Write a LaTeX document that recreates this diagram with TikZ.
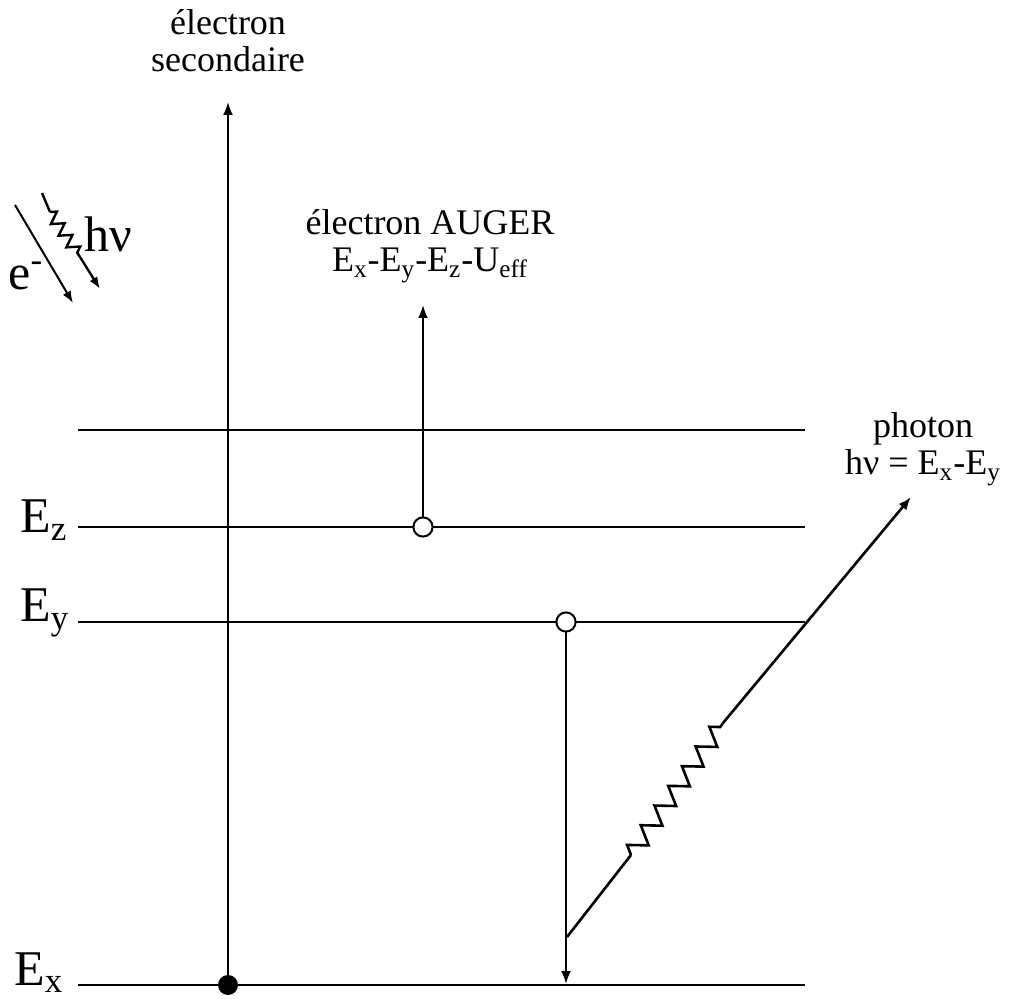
\documentclass[tikz,border=0pt]{standalone}
\usepackage{fontspec}
\setmainfont{Liberation Serif}
\usetikzlibrary{arrows.meta,decorations.pathmorphing}

\begin{document}
\begin{tikzpicture}[x=0.5pt,y=-0.5pt]

\tikzset{niveau/.style={line width=1pt},
  fleche/.style={line width=1pt,-{Latex[length=6.5pt,width=5pt]}},
  onde/.style={decorate,decoration={zigzag,segment length=12pt,amplitude=4.5pt}},
  petit/.style={font=\fontsize{18}{18.5}\selectfont,align=center,inner sep=0pt},
  grand/.style={font=\fontsize{25}{25}\selectfont,inner sep=0pt}}

\useasboundingbox (0,0) rectangle (1012,999);

% niveaux
\coordinate (t0) at (78,430);  \coordinate (t1) at (805,430);
\coordinate (z0) at (78,527);  \coordinate (z1) at (805,527);
\coordinate (y0) at (78,622);  \coordinate (y1) at (805,622);
\coordinate (x0) at (78,985);  \coordinate (x1) at (805,985);

\draw[niveau] (t0) -- (t1);
\draw[niveau] (z0) -- (z1);
\draw[niveau] (y0) -- (y1);
\draw[niveau] (x0) -- (x1);

\node[grand,anchor=base west] (Ez) at (20,533) {E\textsubscript{z}};
\node[grand,anchor=base west] (Ey) at (20,622) {E\textsubscript{y}};
\node[grand,anchor=base west] (Ex) at (14,985) {E\textsubscript{x}};

% electron secondaire
\coordinate (sec0) at (228,985);
\coordinate (sec1) at (228,102);
\draw[fleche] (sec0) -- (sec1);
\fill (sec0) circle [radius=5pt];
\node[petit,anchor=base] (secl) at (228,72) {électron\\secondaire};

% electron Auger
\coordinate (aug0) at (423,527);
\coordinate (aug1) at (423,305);
\draw[fleche] ([yshift=-5pt]aug0) -- (aug1);
\draw[line width=1pt,fill=white] (aug0) circle [radius=4.8pt];
\node[petit,anchor=base] (augl) at (430,272) {électron AUGER\\E\textsubscript{x}-E\textsubscript{y}-E\textsubscript{z}-U\textsubscript{eff}};

% transition Ey -> Ex
\coordinate (tr0) at (566,622);
\coordinate (tr1) at (566,984);
\draw[fleche] ([yshift=-5pt]tr0) -- (tr1);
\draw[line width=1pt,fill=white] (tr0) circle [radius=4.8pt];

% photon
\coordinate (ph0) at (567,937);
\coordinate (ph1) at (631,855);
\coordinate (ph2) at (723,723);
\coordinate (ph3) at (911,497);
\draw[line width=1.3pt] (ph0) -- (ph1);
\draw[line width=1.3pt,onde] (ph1) -- (ph2);
\draw[line width=1.3pt,-{Latex[length=6.5pt,width=5pt]}] (ph2) -- (ph3);
\node[petit,anchor=base] (phl) at (923,475) {photon\\hν = E\textsubscript{x}-E\textsubscript{y}};

% legende e- / hv
\coordinate (e0) at (15,205);
\coordinate (e1) at (73,303);
\draw[line width=1pt,-{Latex[length=6pt,width=4.5pt]}] (e0) -- (e1);
\coordinate (h0) at (42,193);
\coordinate (h1) at (50,212);
\coordinate (h2) at (80,257);
\coordinate (h3) at (100,289);
\draw[line width=1.2pt] (h0) -- (h1);
\draw[line width=1.2pt,decorate,decoration={zigzag,segment length=7pt,amplitude=3pt}] (h1) -- (h2);
\draw[line width=1.2pt,-{Latex[length=6pt,width=4.5pt]}] (h2) -- (h3);
\node[grand,anchor=base west] (hnu) at (84,252) {hν};
\node[grand,anchor=base west] (elec) at (8,290) {e\textsuperscript{-}};

\end{tikzpicture}
\end{document}
